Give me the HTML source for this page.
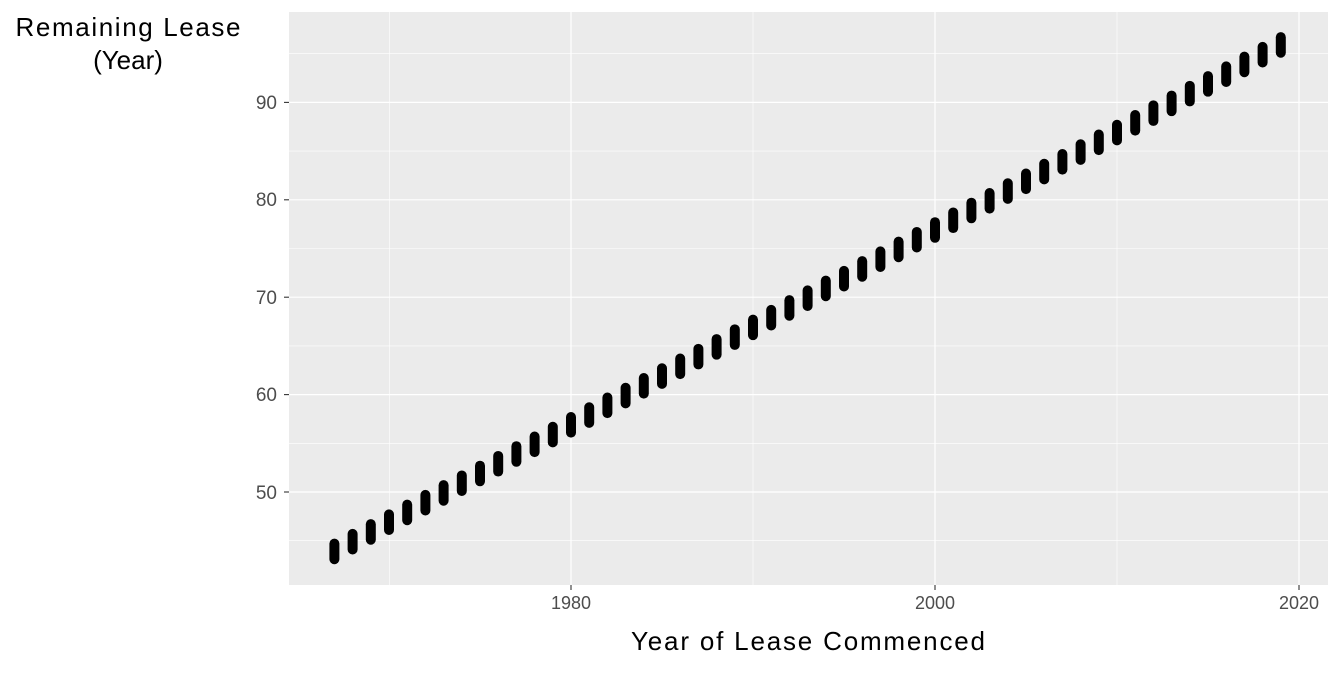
<!DOCTYPE html><html><head><style>body{margin:0;background:#fff}</style></head><body>
<svg width="1344" height="672" xmlns="http://www.w3.org/2000/svg" font-family="Liberation Sans, sans-serif">
<rect x="289" y="12" width="1039" height="573" fill="#ebebeb"/>
<g stroke="#fff" stroke-width="0.6">
<line x1="389.6" x2="389.6" y1="12" y2="585"/><line x1="753" x2="753" y1="12" y2="585"/><line x1="1117" x2="1117" y1="12" y2="585"/>
<line x1="289" x2="1328" y1="540.7" y2="540.7"/><line x1="289" x2="1328" y1="443.3" y2="443.3"/><line x1="289" x2="1328" y1="345.9" y2="345.9"/><line x1="289" x2="1328" y1="248.5" y2="248.5"/><line x1="289" x2="1328" y1="151.1" y2="151.1"/><line x1="289" x2="1328" y1="53.7" y2="53.7"/>
</g>
<g stroke="#fff" stroke-width="1.2">
<line x1="571" x2="571" y1="12" y2="585"/><line x1="935" x2="935" y1="12" y2="585"/><line x1="1299" x2="1299" y1="12" y2="585"/>
<line x1="289" x2="1328" y1="492" y2="492"/><line x1="289" x2="1328" y1="394.6" y2="394.6"/><line x1="289" x2="1328" y1="297.2" y2="297.2"/><line x1="289" x2="1328" y1="199.8" y2="199.8"/><line x1="289" x2="1328" y1="102.4" y2="102.4"/>
</g>
<g stroke="#333" stroke-width="1.1">
<line x1="284" x2="289" y1="492" y2="492"/><line x1="284" x2="289" y1="394.6" y2="394.6"/><line x1="284" x2="289" y1="297.2" y2="297.2"/><line x1="284" x2="289" y1="199.8" y2="199.8"/><line x1="284" x2="289" y1="102.4" y2="102.4"/>
<line x1="571" x2="571" y1="585" y2="590"/><line x1="935" x2="935" y1="585" y2="590"/><line x1="1299" x2="1299" y1="585" y2="590"/>
</g>
<g id="d" stroke="#000" stroke-width="10" stroke-linecap="round"></g>
<g fill="#4d4d4d" font-size="19" text-anchor="end">
<text x="277" y="499">50</text><text x="277" y="401">60</text><text x="277" y="304">70</text><text x="277" y="206">80</text><text x="277" y="109">90</text>
</g>
<g fill="#4d4d4d" font-size="18" text-anchor="middle">
<text x="571" y="609">1980</text><text x="935" y="609">2000</text><text x="1299" y="609">2020</text>
</g>
<text x="808" y="650" font-size="26" text-anchor="middle" textLength="354">Year of Lease Commenced</text>
<text x="128" y="36" font-size="26" text-anchor="middle" textLength="225">Remaining Lease</text>
<text x="128" y="69" font-size="26" text-anchor="middle">(Year)</text>
</svg>
<script>
var g=document.getElementById('d'),s='';
for(var y=1967;y<=2019;y++){var x=571+(y-1980)*18.2,lo=43.1+(y-1967),hi=lo+1.6;
var Y=function(v){return 492-(v-50)*9.74};
s+='<line x1="'+x+'" x2="'+x+'" y1="'+Y(lo)+'" y2="'+Y(hi)+'"/>';}
g.innerHTML=s;
</script>
</body></html>
